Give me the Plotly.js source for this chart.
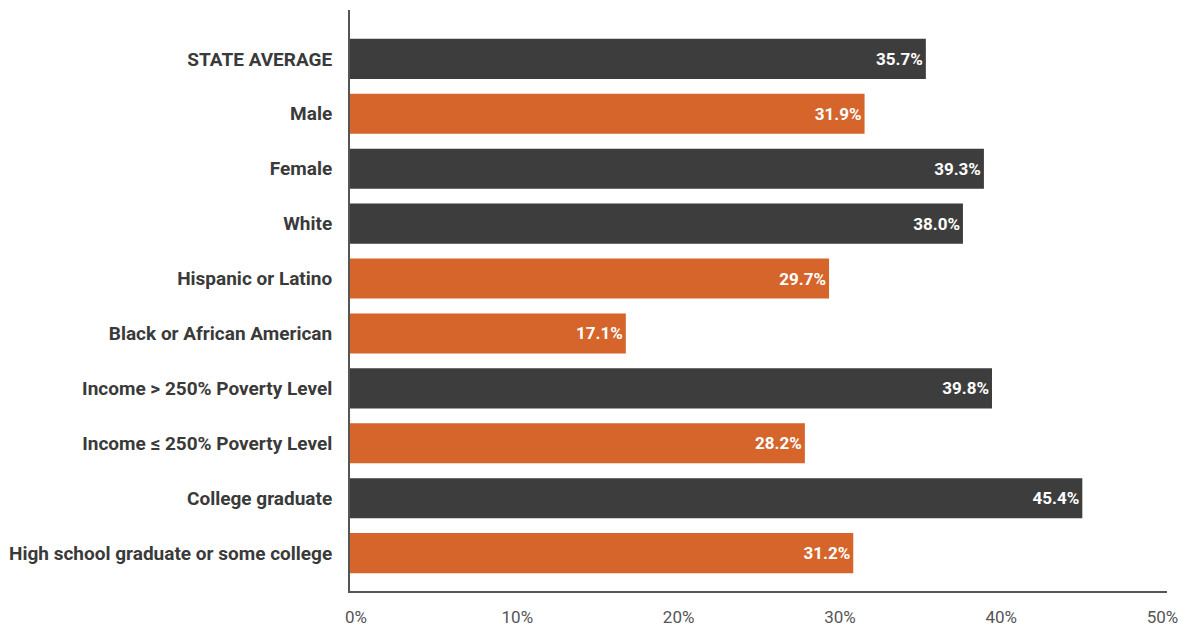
<!DOCTYPE html>
<html><head><meta charset="utf-8">
<script src="https://cdn.plot.ly/plotly-3.0.1.min.js"></script>
<style>html,body{margin:0;padding:0;background:#fff}#chart{width:1188px;height:628px}</style>
</head><body><div id="chart"></div>
<script>
const categories = ["STATE AVERAGE","Male","Female","White","Hispanic or Latino","Black or African American","Income > 250% Poverty Level","Income \u2264 250% Poverty Level","College graduate","High school graduate or some college"];
const values = [35.7,31.9,39.3,38.0,29.7,17.1,39.8,28.2,45.4,31.2];
const groups = ["avg","gap","avg","avg","gap","gap","avg","gap","avg","gap"];
const tickVals = [0,10,20,30,40,50];
const tickText = ["0%","10%","20%","30%","40%","50%"];
const colorMap = {avg:"#3d3d3d", gap:"#d5652a"};

const trace = {
  type:"bar", orientation:"h",
  y: categories, x: values,
  marker:{color: groups.map(g=>colorMap[g]), line:{width:0}},
  text: values.map(v=>v.toFixed(1)+"%"),
  textposition:"inside", insidetextanchor:"end", constraintext:"none",
  textfont:{family:"Roboto, sans-serif", size:17, color:"#ffffff", weight:700},
  hoverinfo:"none", width:0.73
};
const layout = {
  width:1188, height:628,
  margin:{l:350, r:21, t:10, b:37},
  paper_bgcolor:"#fff", plot_bgcolor:"#fff",
  showlegend:false,
  xaxis:{range:[0,50.65], tickvals:tickVals, ticktext:tickText, showgrid:false, zeroline:false,
    showline:true, linecolor:"#555", linewidth:2, ticks:"", ticklabelshift:6, ticklabelstandoff:10,
    tickfont:{family:"Roboto, sans-serif", size:17, color:"#555"}},
  yaxis:{type:"category", range:[9.69,-0.89], showgrid:false, zeroline:false,
    showline:true, linecolor:"#555", linewidth:2, ticks:"", ticklabelstandoff:12,
    tickfont:{family:"Roboto, sans-serif", size:19, color:"#3a3a3a", weight:700}}
};
Plotly.newPlot("chart",[trace],layout,{staticPlot:true});
</script></body></html>
